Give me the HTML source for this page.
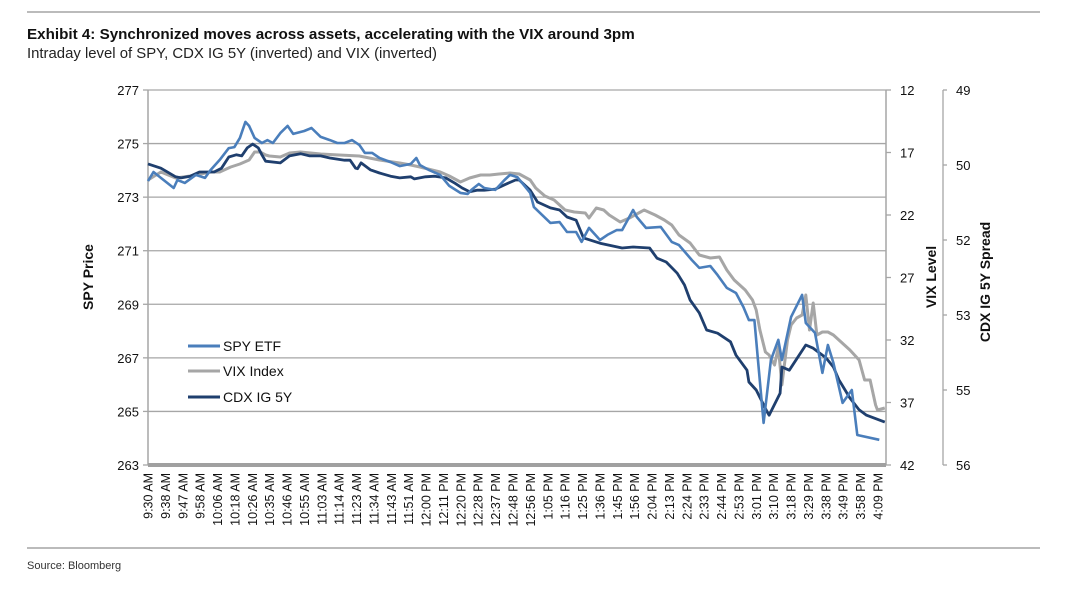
<!DOCTYPE html>
<html><head><meta charset="utf-8"><style>
body{margin:0;background:#fff;width:1069px;height:585px;overflow:hidden;font-family:"Liberation Sans",Arial,sans-serif}
svg text{font-family:"Liberation Sans",Arial,sans-serif}
</style></head><body>
<svg id="c" width="1069" height="585">
<line x1="27" y1="12" x2="1040" y2="12" stroke="#777" stroke-width="1"/>
<text x="27" y="39" font-size="15.2" font-weight="bold" fill="#111">Exhibit 4: Synchronized moves across assets, accelerating with the VIX around 3pm</text>
<text x="27" y="58" font-size="14.9" fill="#222">Intraday level of SPY, CDX IG 5Y (inverted) and VIX (inverted)</text>
<line x1="27" y1="548" x2="1040" y2="548" stroke="#777" stroke-width="1"/>
<text x="27" y="569" font-size="11" fill="#333">Source: Bloomberg</text>
<g id="plot"></g>
</svg>
<script>
const timeLabels=["9:30 AM","9:38 AM","9:47 AM","9:58 AM","10:06 AM","10:18 AM","10:26 AM","10:35 AM","10:46 AM","10:55 AM","11:03 AM","11:14 AM","11:23 AM","11:34 AM","11:43 AM","11:51 AM","12:00 PM","12:11 PM","12:20 PM","12:28 PM","12:37 PM","12:48 PM","12:56 PM","1:05 PM","1:16 PM","1:25 PM","1:36 PM","1:45 PM","1:56 PM","2:04 PM","2:13 PM","2:24 PM","2:33 PM","2:44 PM","2:53 PM","3:01 PM","3:10 PM","3:18 PM","3:29 PM","3:38 PM","3:49 PM","3:58 PM","4:09 PM"];
const spyTicks=[277,275,273,271,269,267,265,263];
const vixTicks=[12,17,22,27,32,37,42];
const cdxTicks=[49,50.4,51.8,53.2,54.6,56];
const spyMin=[0,3,7,14,16,20,26,31,34,39,44,47,50,53,55,58,62,65,68,72,76,79,85,89,94,99,103,107,111,115,118,122,126,132,137,143,146,148,153,159,164,170,174,176,180,183,189,194,197,201,208,210,219,224,228,233,236,240,246,250,255,258,264,266,271,279,285,289,296,300,306,310,315,320,324,327,330,335,339,343,345,350,356,358,363,367,370,373,378,383,386,398];
const spyVal=[273.60,273.94,273.72,273.34,273.64,273.53,273.83,273.72,274.01,274.39,274.83,274.87,275.21,275.81,275.66,275.21,275.02,275.13,275.02,275.39,275.66,275.36,275.47,275.58,275.25,275.13,275.02,275.02,275.13,274.95,274.65,274.65,274.46,274.31,274.16,274.24,274.46,274.20,274.01,273.83,273.42,273.16,273.12,273.27,273.49,273.34,273.27,273.64,273.83,273.75,273.16,272.63,272.04,272.07,271.70,271.70,271.33,271.85,271.40,271.59,271.77,271.77,272.52,272.26,271.85,271.89,271.33,271.21,270.65,270.36,270.43,270.09,269.61,269.42,268.90,268.41,268.41,264.57,266.92,267.67,266.92,268.53,269.35,268.30,267.93,266.44,267.48,266.81,265.32,265.80,264.12,263.94];
const vixMin=[0,7,15,23,34,39,45,50,55,58,61,64,66,72,77,83,94,104,115,126,137,143,148,159,164,170,175,181,186,191,197,202,208,211,216,221,227,232,238,240,244,248,251,257,262,268,270,276,281,285,289,295,300,306,311,315,319,325,329,331,333,336,338,341,343,345,348,350,353,356,358,360,362,364,367,370,373,376,382,387,390,393,396,397,401];
const vixVal=[19.2,18.56,19.04,18.88,18.56,18.56,18.16,17.92,17.6,16.96,16.96,17.2,17.28,17.36,17.04,16.96,17.12,17.2,17.28,17.6,17.84,18.0,18.16,18.56,18.88,19.36,19.04,18.8,18.8,18.72,18.64,18.72,19.2,19.84,20.48,20.8,21.6,21.76,21.84,22.24,21.44,21.6,22.0,22.56,22.24,21.76,21.6,22.0,22.4,22.8,23.6,24.24,25.2,25.44,25.36,26.4,27.2,28.0,28.8,29.6,31.2,32.96,33.2,34.0,32.56,35.6,32.0,30.8,30.24,30.0,28.4,31.2,29.04,31.6,31.36,31.36,31.6,32.0,32.8,33.6,35.2,35.2,37.2,37.6,37.44];
const cdxMin=[0,7,15,18,23,28,36,40,44,48,51,54,57,60,62,64,72,77,83,88,94,99,107,110,113,114,116,121,126,132,137,143,145,151,156,162,167,171,175,179,183,189,194,200,202,208,212,219,224,228,233,237,246,258,264,273,277,282,288,292,295,300,304,310,317,320,326,327,331,337,338,344,345,349,358,362,369,373,376,382,387,391,401];
const cdxVal=[50.38,50.46,50.62,50.64,50.61,50.53,50.53,50.46,50.25,50.21,50.23,50.08,50.01,50.08,50.21,50.33,50.36,50.23,50.19,50.23,50.23,50.27,50.31,50.31,50.46,50.47,50.36,50.49,50.55,50.61,50.64,50.62,50.66,50.62,50.61,50.64,50.74,50.83,50.90,50.87,50.87,50.85,50.77,50.68,50.68,50.87,51.09,51.20,51.24,51.37,51.43,51.76,51.86,51.95,51.93,51.95,52.14,52.21,52.42,52.64,52.92,53.16,53.48,53.54,53.70,53.95,54.23,54.45,54.60,55.01,55.07,54.66,54.17,54.23,53.76,53.82,54.00,54.17,54.41,54.75,54.97,55.07,55.20];

const NS='http://www.w3.org/2000/svg';
const g=document.getElementById('plot');
const X0=148,X1=886,Y0=90,Y1=465;
const xMin=m=>X0+m/400*735;
const ySpy=v=>Y0+(277-v)/14*(Y1-Y0);
const yVix=v=>Y0+(v-12)/30*(Y1-Y0);
const yCdx=v=>Y0+(v-49)/7*(Y1-Y0);
function mk(t,a,p){const e=document.createElementNS(NS,t);for(const k in a)e.setAttribute(k,a[k]);(p||g).appendChild(e);return e;}

spyTicks.forEach(v=>{
 const y=ySpy(v);
 if(v>263){const l=mk('line',{x1:X0,y1:y,x2:X1,y2:y,stroke:'#a6a6a6','stroke-width':1.3});
 
 }
 const tk=mk('line',{x1:X0-5,y1:y,x2:X0,y2:y,stroke:'#a6a6a6','stroke-width':1.3});
 
 
 const t=mk('text',{x:X0-9,y:y+5,'text-anchor':'end','font-size':13,fill:'#111'});t.textContent=v;
 
 
});
const la=mk('line',{x1:X0,y1:Y0,x2:X0,y2:Y1,stroke:'#a6a6a6','stroke-width':1.5});


const ra=mk('line',{x1:X1,y1:Y0,x2:X1,y2:Y1,stroke:'#a6a6a6','stroke-width':1.5});


vixTicks.forEach(v=>{
 const y=yVix(v);
 const tk=mk('line',{x1:X1,y1:y,x2:X1+5,y2:y,stroke:'#a6a6a6','stroke-width':1.3});
 
 
 const t=mk('text',{x:X1+14,y:y+5,'font-size':13,fill:'#111'});t.textContent=v;
 
 
});
const ca=mk('line',{x1:943,y1:Y0,x2:943,y2:Y1,stroke:'#a6a6a6','stroke-width':1.3});


cdxTicks.forEach(v=>{
 const y=yCdx(v);
 const tk=mk('line',{x1:943,y1:y,x2:947,y2:y,stroke:'#a6a6a6','stroke-width':1.3});
 
 
 const t=mk('text',{x:956,y:y+5,'font-size':13,fill:'#111'});t.textContent=Math.round(v);
 
 
});
const xa=mk('line',{x1:X0,y1:Y1,x2:X1,y2:Y1,stroke:'#a0a0a0','stroke-width':4});


timeLabels.forEach((s,i)=>{
 const x=X0+i*(730/42);
 const t=mk('text',{x:0,y:0,'text-anchor':'end','font-size':12.5,fill:'#111',transform:`translate(${x+4.5},${Y1+8}) rotate(-90)`});t.textContent=s;
 
 
});
function line(ms,vs,yf,col,w,name){
 const d=ms.map((m,i)=>(i?'L':'M')+xMin(m).toFixed(1)+','+yf(vs[i]).toFixed(1)).join('');
 const p=mk('path',{d:d,fill:'none',stroke:col,'stroke-width':w,'stroke-linejoin':'round'});
 
 
}
line(vixMin,vixVal,yVix,'#a6a6a6',3.0,'vix-line');
line(cdxMin,cdxVal,yCdx,'#1f3f6e',2.8,'cdx-line');
line(spyMin,spyVal,ySpy,'#4a7ebb',2.6,'spy-line');
[['SPY ETF','#4a7ebb',346],['VIX Index','#a6a6a6',371],['CDX IG 5Y','#1f3f6e',397]].forEach(e=>{
 const l=mk('line',{x1:188,y1:e[2],x2:220,y2:e[2],stroke:e[1],'stroke-width':3});
 
 
 const t=mk('text',{x:223,y:e[2]+5,'font-size':14,fill:'#111'});t.textContent=e[0];
 
 
});
[['SPY Price',93,277],['VIX Level',936,277],['CDX IG 5Y Spread',990,282]].forEach(a=>{
 const t=mk('text',{x:0,y:0,'text-anchor':'middle','font-size':14,'font-weight':'bold',fill:'#111',transform:`translate(${a[1]},${a[2]}) rotate(-90)`});t.textContent=a[0];
 
 
});
</script>
</body></html>
